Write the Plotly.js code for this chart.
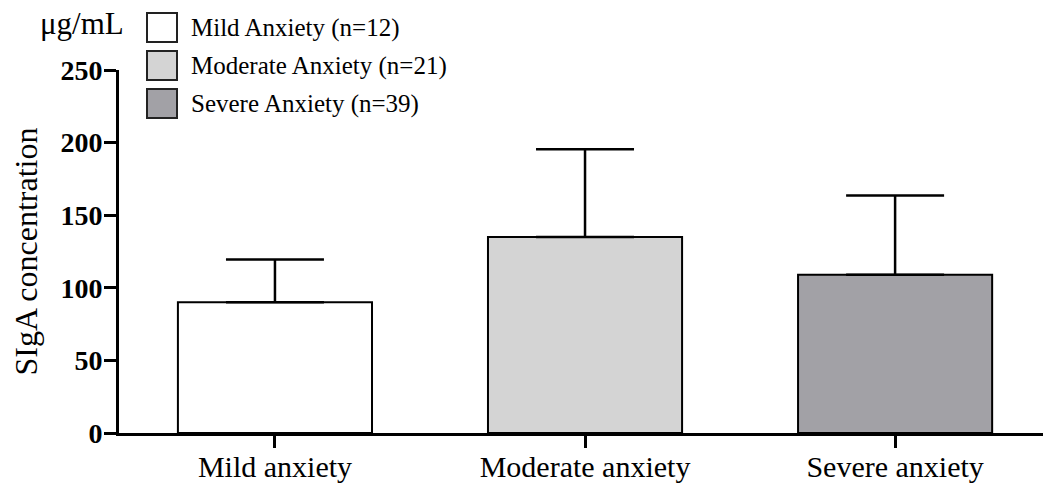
<!DOCTYPE html>
<html>
<head>
<meta charset="utf-8">
<script src="https://cdn.plot.ly/plotly-3.0.1.min.js"></script>
<style>html,body{margin:0;padding:0;background:#fff;}#chart{width:1043px;height:488px;}</style>
</head>
<body>
<div id="chart"></div>
<script>
const categories = ['Mild anxiety', 'Moderate anxiety', 'Severe anxiety'];
const meanValues = [90, 135, 109];
const sdValues = [29.5, 60.5, 54.5];
const legendLabels = ['Mild Anxiety (n=12)', 'Moderate Anxiety (n=21)', 'Severe Anxiety (n=39)'];
const barColors = ['#ffffff', '#d4d4d4', '#a2a1a6'];
const yTickValues = [0, 50, 100, 150, 200, 250];
const yUnit = 'μg/mL';
const yTitle = 'SIgA concentration';

const serif = '"Liberation Serif", "Times New Roman", serif';

const trace = {
  type: 'bar',
  x: categories,
  y: meanValues,
  width: 0.626,
  marker: { color: barColors, line: { color: '#000', width: 2 } },
  error_y: {
    type: 'data', array: sdValues, arrayminus: [0, 0, 0], symmetric: false,
    visible: true, color: '#000', thickness: 2.5, width: 49
  },
  showlegend: false,
  hoverinfo: 'x+y'
};

// custom legend: boxes (pixel-sized shapes anchored to the plot's top-left) + text
const shapes = [];
const annotations = [];
const boxTop = [57, 19, -19];
legendLabels.forEach((lab, i) => {
  shapes.push({
    type: 'rect', xref: 'paper', yref: 'paper',
    xsizemode: 'pixel', ysizemode: 'pixel', xanchor: 0, yanchor: 1,
    x0: 28, x1: 58, y0: boxTop[i], y1: boxTop[i] - 29,
    fillcolor: barColors[i], line: { color: '#222', width: 2 }
  });
  annotations.push({
    xref: 'paper', yref: 'paper', x: 0, y: 1, xanchor: 'left', yanchor: 'middle',
    xshift: 70, yshift: boxTop[i] - 14.5,
    text: lab, showarrow: false,
    font: { family: serif, size: 25, color: '#000' }
  });
});
annotations.push({
  xref: 'paper', yref: 'paper', x: 0, y: 1, xanchor: 'right', yanchor: 'middle',
  xshift: 7, yshift: 47,
  text: yUnit, showarrow: false,
  font: { family: serif, size: 31, color: '#000' }
});

const layout = {
  width: 1043, height: 488,
  margin: { l: 119, r: 0, t: 70, b: 55, pad: 0 },
  paper_bgcolor: '#fff', plot_bgcolor: '#fff',
  showlegend: false,
  bargap: 0,
  xaxis: {
    type: 'category',
    range: [-0.503, 2.477],
    showline: true, linecolor: '#000', linewidth: 3,
    ticks: 'outside', ticklen: 12, tickwidth: 3, tickcolor: '#000',
    ticklabelstandoff: -7,
    showgrid: false, zeroline: false,
    tickfont: { family: serif, size: 30, color: '#000' },
    fixedrange: true
  },
  yaxis: {
    range: [0, 250],
    tickvals: yTickValues,
    showline: true, linecolor: '#000', linewidth: 3,
    ticks: 'outside', ticklen: 12, tickwidth: 3, tickcolor: '#000',
    ticklabelstandoff: -4,
    showgrid: false, zeroline: false,
    tickfont: { family: serif, size: 28, color: '#000', weight: 'bold' },
    title: { text: yTitle, font: { family: serif, size: 32, color: '#000' }, standoff: 14 },
    fixedrange: true
  },
  shapes: shapes,
  annotations: annotations
};

Plotly.newPlot('chart', [trace], layout, { displayModeBar: false, staticPlot: true });
</script>
</body>
</html>
